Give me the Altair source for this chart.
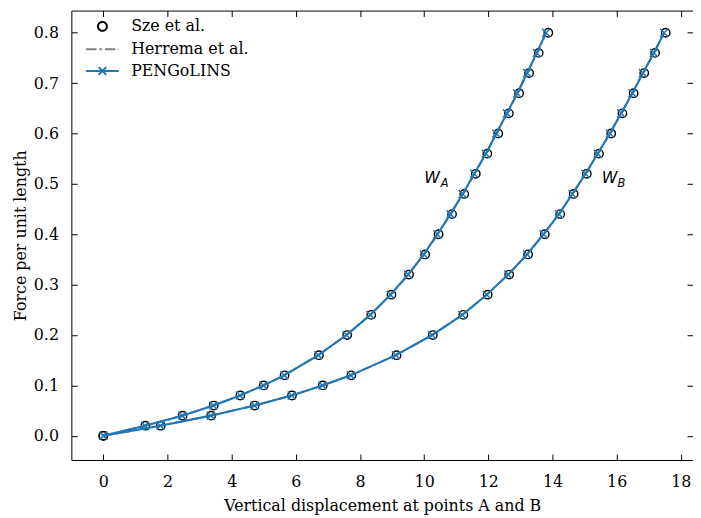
import altair as alt
import pandas as pd

# ---------------- data ----------------
loads = [0.0, 0.02, 0.04, 0.06, 0.08, 0.10, 0.12, 0.16, 0.20, 0.24, 0.28, 0.32,
         0.36, 0.40, 0.44, 0.48, 0.52, 0.56, 0.60, 0.64, 0.68, 0.72, 0.76, 0.80]

sze_wa = [0.0, 1.31, 2.47, 3.44, 4.27, 5.00, 5.65, 6.72, 7.60, 8.35, 8.98, 9.53,
          10.03, 10.45, 10.87, 11.25, 11.61, 11.97, 12.31, 12.64, 12.96, 13.27, 13.57, 13.87]
sze_wb = [0.0, 1.79, 3.36, 4.72, 5.88, 6.84, 7.73, 9.14, 10.27, 11.22, 11.98, 12.65,
          13.24, 13.76, 14.24, 14.66, 15.07, 15.45, 15.83, 16.18, 16.53, 16.86, 17.20, 17.53]

herrema_wa = [0.0, 1.30, 2.46, 3.43, 4.26, 4.99, 5.64, 6.70, 7.58, 8.33, 8.96, 9.51,
              10.00, 10.42, 10.83, 11.21, 11.57, 11.93, 12.26, 12.59, 12.91, 13.22, 13.52, 13.81]
herrema_wb = [0.0, 1.78, 3.35, 4.71, 5.87, 6.83, 7.71, 9.12, 10.25, 11.19, 11.95, 12.62,
              13.21, 13.72, 14.20, 14.62, 15.03, 15.41, 15.79, 16.14, 16.49, 16.82, 17.16, 17.48]

peng_wa = [0.0, 1.30, 2.46, 3.43, 4.26, 4.99, 5.64, 6.70, 7.58, 8.32, 8.95, 9.50,
           9.99, 10.41, 10.82, 11.20, 11.56, 11.92, 12.25, 12.58, 12.90, 13.21, 13.51, 13.80]
peng_wb = [0.0, 1.78, 3.35, 4.71, 5.87, 6.83, 7.71, 9.12, 10.25, 11.19, 11.95, 12.62,
           13.21, 13.72, 14.20, 14.62, 15.03, 15.41, 15.79, 16.14, 16.49, 16.82, 17.16, 17.48]

series_names = ["Sze et al.", "Herrema et al.", "PENGoLINS"]
series_colors = ["black", "#808080", "#1f77b4"]

x_ticks = [0, 2, 4, 6, 8, 10, 12, 14, 16, 18]
y_ticks = [0.0, 0.1, 0.2, 0.3, 0.4, 0.5, 0.6, 0.7, 0.8]

labels_main = ["W", "W"]
labels_sub = ["A", "B"]
labels_main_x = [10.25, 15.78]
labels_sub_x = [10.52, 16.03]
labels_main_y = [0.5026, 0.5026]
labels_sub_y = [0.4946, 0.4946]


def long(wa, wb):
    return pd.DataFrame({
        "disp": wa + wb,
        "load": loads + loads,
        "curve": ["A"] * len(loads) + ["B"] * len(loads),
    })


sze_df = long(sze_wa, sze_wb)
her_df = long(herrema_wa, herrema_wb)
peng_df = long(peng_wa, peng_wb)
legend_df = pd.DataFrame({"series": series_names, "disp": [-5.0] * 3, "load": [0.4] * 3})
main_df = pd.DataFrame({"t": labels_main, "x": labels_main_x, "y": labels_main_y})
sub_df = pd.DataFrame({"t": labels_sub, "x": labels_sub_x, "y": labels_sub_y})

# ---------------- scales / axes ----------------
SERIF = "DejaVu Serif"
FS = 16
xs = alt.Scale(domain=[-0.997, 18.38], nice=False, zero=False)
ys = alt.Scale(domain=[-0.048, 0.844], nice=False, zero=False)

x_main = alt.Axis(values=x_ticks, format="d", title="Vertical displacement at points A and B",
                  ticks=False, tickSize=0, domain=False, grid=False, labelPadding=14,
                  titlePadding=8)
y_main = alt.Axis(values=y_ticks, format=".1f", title="Force per unit length",
                  ticks=False, tickSize=0, domain=False, grid=False, labelPadding=13,
                  titlePadding=5)


def tick_axis(orient, vals):
    return alt.Axis(orient=orient, values=vals, labels=False, domain=False, grid=False,
                    ticks=True, tickSize=6, offset=-6, title=None)


XS = "disp:Q"
YS = "load:Q"

sze = alt.Chart(sze_df).mark_point(
    shape="circle", filled=False, color="black", size=72, strokeWidth=1.4, opacity=1
).encode(
    x=alt.X(XS, scale=xs, axis=x_main),
    y=alt.Y(YS, scale=ys, axis=y_main),
)

her = alt.Chart(her_df).mark_line(
    color="#808080", strokeWidth=2, strokeDash=[10, 3, 2, 3]
).encode(
    x=alt.X(XS, scale=xs, axis=tick_axis("bottom", x_ticks)),
    y=alt.Y(YS, scale=ys, axis=tick_axis("left", y_ticks)),
    detail="curve:N",
    order="load:Q",
)

peng_line = alt.Chart(peng_df).mark_line(color="#1f77b4", strokeWidth=2.1).encode(
    x=alt.X(XS, scale=xs, axis=tick_axis("top", x_ticks)),
    y=alt.Y(YS, scale=ys, axis=tick_axis("right", y_ticks)),
    detail="curve:N",
    order="load:Q",
)

XPATH = "M-1,-1L1,1M-1,1L1,-1"
peng_pts = alt.Chart(peng_df).mark_point(
    shape=XPATH, filled=False, color="#1f77b4", size=64, strokeWidth=1.5, opacity=1
).encode(
    x=alt.X(XS, scale=xs, axis=None),
    y=alt.Y(YS, scale=ys, axis=None),
)

CIRCLE_PATH = "M0.45,0A0.45,0.45 0 1,1 -0.45,0A0.45,0.45 0 1,1 0.45,0Z"
LINE_PATH = "M-1.65,0L1.65,0"
LINEX_PATH = "M-1.65,0L1.65,0M-0.38,-0.38L0.38,0.38M-0.38,0.38L0.38,-0.38"

leg = alt.Legend(
    title=None, orient="none", legendX=20.4, legendY=5, padding=0,
    labelFont=SERIF, labelFontSize=FS, labelColor="black", labelOffset=18,
    rowPadding=3, symbolSize=400, symbolStrokeWidth=2, symbolFillColor="transparent",
)

legend_layer = alt.Chart(legend_df).mark_point(
    filled=False, clip=True, opacity=1, strokeWidth=2, size=400
).encode(
    x=alt.X(XS, scale=xs, axis=None),
    y=alt.Y(YS, scale=ys, axis=None),
    color=alt.Color("series:N", scale=alt.Scale(domain=series_names, range=series_colors),
                    legend=leg),
    shape=alt.Shape("series:N", scale=alt.Scale(domain=series_names,
                                                range=[CIRCLE_PATH, LINE_PATH, LINEX_PATH]),
                    legend=leg),
    strokeDash=alt.StrokeDash("series:N", scale=alt.Scale(domain=series_names,
                                                         range=[[1, 0], [10.5, 3, 2.5, 3], [1, 0]]),
                              legend=leg),
)

txt_main = alt.Chart(main_df).mark_text(
    font="DejaVu Sans", fontStyle="italic", fontSize=16, align="center",
    baseline="alphabetic", color="black"
).encode(
    x=alt.X("x:Q", scale=xs, axis=None),
    y=alt.Y("y:Q", scale=ys, axis=None),
    text="t:N",
)

txt_sub = alt.Chart(sub_df).mark_text(
    font="DejaVu Sans", fontStyle="italic", fontSize=11.5, align="left",
    baseline="alphabetic", color="black"
).encode(
    x=alt.X("x:Q", scale=xs, axis=None),
    y=alt.Y("y:Q", scale=ys, axis=None),
    text="t:N",
)

chart = alt.layer(
    sze, her, peng_line, peng_pts, legend_layer, txt_main, txt_sub
).resolve_axis(
    x="independent", y="independent"
).properties(
    width=628, height=454,
    autosize=alt.AutoSizeParams(type="none"),
    padding={"left": 64, "top": 0, "right": 0, "bottom": 54},
).configure_view(
    stroke="black", strokeWidth=1
).configure_axis(
    labelFont=SERIF, labelFontSize=FS, labelColor="black",
    titleFont=SERIF, titleFontSize=FS, titleFontWeight="normal", titleColor="black",
    tickColor="black", tickWidth=1,
)

chart.save("out.html", embed_options={"renderer": "svg", "actions": False})
